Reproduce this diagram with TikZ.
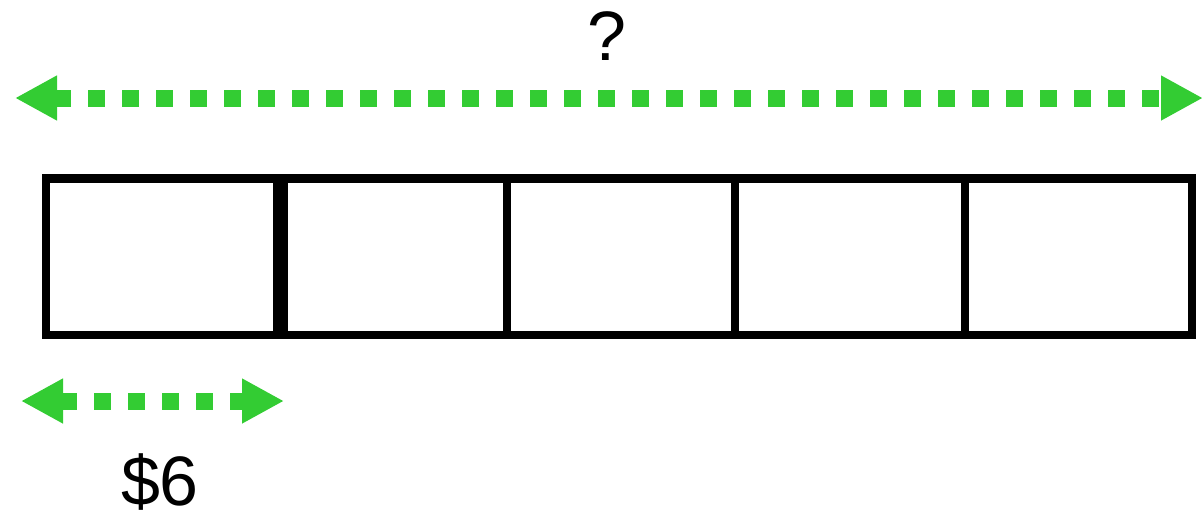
\documentclass[tikz,border=0pt]{standalone}
\usepackage{fontspec}
\setmainfont{Liberation Sans}
\usetikzlibrary{arrows.meta}
\definecolor{arrowgreen}{RGB}{51,204,51}
\tikzset{
  cell/.style={draw=black, line width=8.5pt, rectangle, inner sep=0pt, minimum height=156.5pt},
  measure/.style={draw=arrowgreen, line width=17pt, dash pattern=on 17pt off 17pt,
    {Triangle[length=42pt,width=42pt,fill=arrowgreen]}-{Triangle[length=42pt,width=42pt,fill=arrowgreen]}},
  lbl/.style={font=\fontsize{70}{74}\selectfont, anchor=base, inner sep=0pt}
}
\begin{document}
\begin{tikzpicture}[x=1pt,y=-1pt]
\useasboundingbox (0,0) rectangle (1202,512);
\node[cell, minimum width=231pt] (c1) at (161.5,256.75) {};
\node[cell, minimum width=230pt] (c2) at (392,256.75) {};
\node[cell, minimum width=228pt] (c3) at (621,256.75) {};
\node[cell, minimum width=230pt] (c4) at (850,256.75) {};
\node[cell, minimum width=227pt] (c5) at (1078.5,256.75) {};
\draw[line width=13pt] (c1.north east) -- (c1.south east);
\coordinate (tl) at (15,98);
\coordinate (tr) at (1203,98);
\draw[measure] (tl) -- (tr);
\coordinate (bl) at (21,401);
\coordinate (br) at (284,401);
\draw[measure] (bl) -- (br);
\node[lbl] (q) at (607,60) {?};
\node[lbl] (six) at (160,505) {\$6};
\end{tikzpicture}
\end{document}
